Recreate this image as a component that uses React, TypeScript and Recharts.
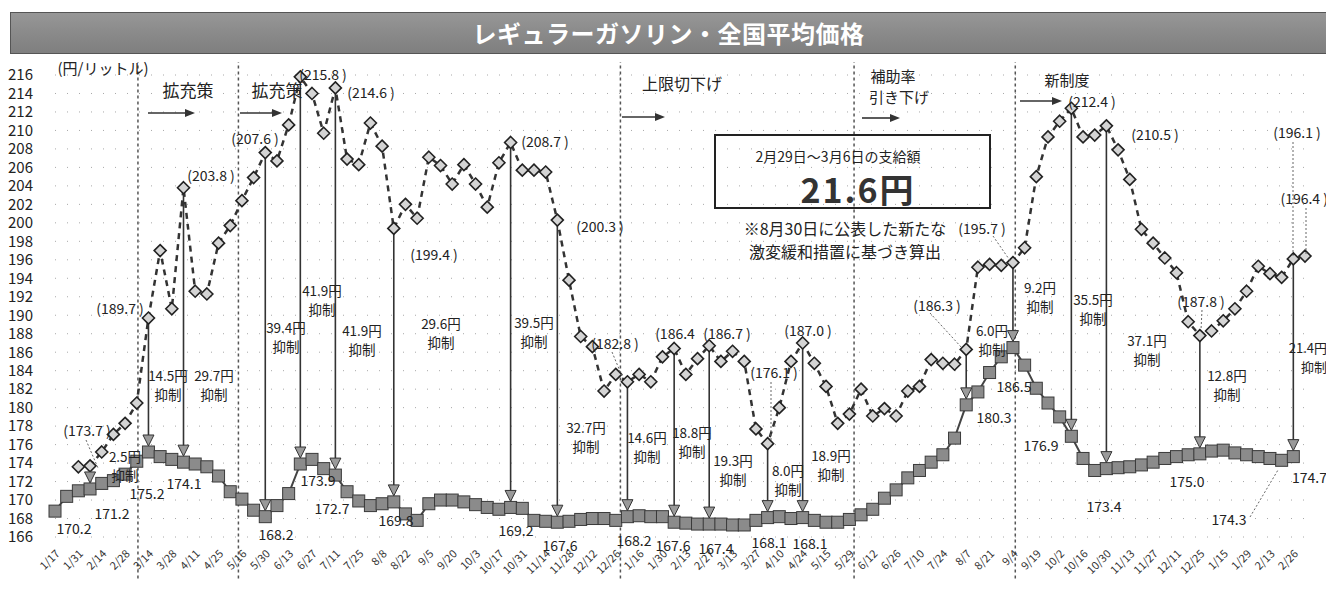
import React from 'react';
import {
  LineChart,
  Line,
  XAxis,
  YAxis,
  CartesianGrid,
  ReferenceLine,
  ReferenceDot
} from 'recharts';

// survey weeks, Jan 2022 - Mar 2024 (holiday weeks skipped)
const weeks = [
  '1/17', '1/24', '1/31', '2/7', '2/14', '2/21', '2/28', '3/7', '3/14', '3/22',
  '3/28', '4/4', '4/11', '4/18', '4/25', '5/9', '5/16', '5/23', '5/30', '6/6',
  '6/13', '6/20', '6/27', '7/4', '7/11', '7/19', '7/25', '8/1', '8/8', '8/15',
  '8/22', '8/29', '9/5', '9/12', '9/20', '9/26', '10/3', '10/11', '10/17', '10/24',
  '10/31', '11/7', '11/14', '11/21', '11/28', '12/5', '12/12', '12/19', '12/26', '1/10',
  '1/16', '1/23', '1/30', '2/6', '2/13', '2/20', '2/27', '3/6', '3/13', '3/20',
  '3/27', '4/3', '4/10', '4/17', '4/24', '5/8', '5/15', '5/22', '5/29', '6/5',
  '6/12', '6/19', '6/26', '7/3', '7/10', '7/18', '7/24', '7/31', '8/7', '8/14',
  '8/21', '8/28', '9/4', '9/11', '9/19', '9/25', '10/2', '10/10', '10/16', '10/23',
  '10/30', '11/6', '11/13', '11/20', '11/27', '12/4', '12/11', '12/18', '12/25', '1/9',
  '1/15', '1/22', '1/29', '2/5', '2/13', '2/19', '2/26', '3/4'
];

// actual pump price (with subsidy)
const actualPrice = [
  168.8, 170.4, 171.0, 171.2, 171.8, 172.1, 172.8, 174.2, 175.2, 174.7,
  174.4, 174.1, 173.9, 173.6, 172.6, 170.9, 170.1, 168.9, 168.2, 169.4,
  170.7, 173.9, 174.4, 173.4, 172.7, 170.9, 169.9, 169.4, 169.6, 169.8,
  168.5, 167.8, 169.6, 170.0, 170.0, 169.8, 169.5, 169.2, 169.0, 169.2,
  169.1, 167.8, 167.7, 167.6, 167.7, 167.9, 168.0, 168.0, 167.8, 168.2,
  168.3, 168.2, 168.2, 167.6, 167.5, 167.4, 167.4, 167.4, 167.3, 167.3,
  167.8, 168.1, 168.2, 168.0, 168.1, 167.8, 167.6, 167.6, 167.9, 168.4,
  169.0, 170.2, 171.1, 172.4, 173.2, 174.1, 174.9, 176.7, 180.3, 181.7,
  183.8, 185.5, 186.5, 184.6, 182.1, 180.5, 179.0, 176.9, 174.5, 173.2,
  173.4, 173.5, 173.6, 173.8, 174.1, 174.5, 174.7, 174.9, 175.0, 175.3,
  175.4, 175.1, 174.9, 174.7, 174.5, 174.3, 174.7
];

// price without subsidy
const noSubsidyPrice = [
  null, null, 173.6, 173.7, 175.2, 177.1, 178.3, 180.5, 189.7, 197.0,
  190.7, 203.8, 192.6, 192.3, 197.8, 199.7, 202.4, 204.9, 207.6, 206.7,
  210.6, 215.8, 214.0, 209.7, 214.6, 206.9, 206.3, 210.8, 208.3, 199.4,
  202.0, 200.5, 207.1, 206.2, 204.2, 206.3, 204.2, 201.7, 206.5, 208.7,
  205.7, 205.7, 205.5, 200.3, 193.8, 187.7, 186.6, 181.8, 183.6, 182.8,
  183.6, 182.8, 185.5, 186.4, 183.6, 185.3, 186.7, 185.0, 186.1, 185.0,
  177.7, 176.1, 180.0, 185.0, 187.0, 184.8, 182.3, 178.3, 179.3, 182.0,
  179.1, 179.9, 179.1, 181.8, 182.3, 185.2, 184.8, 184.7, 186.3, 195.2,
  195.5, 195.4, 195.7, 197.3, 205.0, 209.3, 211.0, 212.4, 209.3, 209.5,
  210.5, 207.9, 204.7, 199.3, 197.8, 196.2, 194.6, 189.3, 187.8, 188.3,
  189.4, 190.7, 192.6, 195.3, 194.5, 194.1, 196.1, 196.4
];

// weeks with a "xx円 抑制" arrow
const arrowWeeks = [3, 8, 11, 18, 21, 24, 29, 39, 43, 49, 53, 56, 61, 64, 78, 82, 87, 90, 98, 106];

// policy change boundaries (week position)
const policyBreaks = [7.1, 15.7, 48.4, 68.4, 82.2];

const yTicks = [
  166, 168, 170, 172, 174, 176, 178, 180, 182, 184, 186, 188, 190,
  192, 194, 196, 198, 200, 202, 204, 206, 208, 210, 212, 214, 216
];

const rows = weeks.map((w, i) => ({
  i,
  week: w,
  actual: actualPrice[i] ?? null,
  base: noSubsidyPrice[i] ?? null
}));

const xTicks = weeks.map((_, i) => i).filter((i) => i % 2 === 0);

const FONT = "'Noto Sans CJK JP', 'Noto Sans', sans-serif";

const SquareDot = (p: any) => {
  if (p.cy == null || p.cx == null) return <g key={`s${p.index}`} />;
  return (
    <rect
      key={`s${p.index}`}
      x={p.cx - 6}
      y={p.cy - 6}
      width={12}
      height={12}
      fill="#8b8b8b"
      stroke="#3a3a3a"
      strokeWidth={1}
    />
  );
};

const DiamondDot = (p: any) => {
  if (p.cy == null || p.cx == null) return <g key={`d${p.index}`} />;
  const { cx, cy } = p;
  return (
    <polygon
      key={`d${p.index}`}
      points={`${cx},${cy - 6} ${cx + 6},${cy} ${cx},${cy + 6} ${cx - 6},${cy}`}
      fill="#d4d4d4"
      stroke="#222"
      strokeWidth={1.6}
    />
  );
};

const ArrowHead = (p: any) => {
  const { cx, cy } = p;
  if (cx == null || cy == null) return <g />;
  return (
    <polygon
      points={`${cx - 5.5},${cy - 17} ${cx + 5.5},${cy - 17} ${cx},${cy - 6}`}
      fill="#9a9a9a"
      stroke="#333"
      strokeWidth={1}
    />
  );
};

// annotation texts
const valueLabels: [string, number, number][] = [
  ['(173.7 )', 87, 430], ['(189.7 )', 120, 308], ['(203.8 )', 211, 175],
  ['(207.6 )', 255, 138], ['(215.8 )', 323, 74], ['(214.6 )', 371, 92],
  ['(199.4 )', 434, 254], ['(208.7 )', 545, 141], ['(200.3 )', 600, 226],
  ['(182.8 )', 615, 343], ['(186.4', 675, 333], ['(186.7 )', 727, 333],
  ['(176.1 )', 774, 372], ['(187.0 )', 808, 330], ['(186.3 )', 937, 305],
  ['(195.7 )', 982, 228], ['(212.4 )', 1092, 101], ['(210.5 )', 1155, 134],
  ['(196.1 )', 1297, 132], ['(187.8 )', 1201, 301]
];

const grayLabels: [string, number, number][] = [
  ['170.2', 74, 528], ['171.2', 112, 513], ['175.2', 147, 493], ['174.1', 184, 483],
  ['168.2', 276, 534], ['173.9', 318, 480], ['172.7', 332, 508], ['169.8', 396, 520],
  ['169.2', 516, 530], ['167.6', 560, 545], ['168.2', 634, 540], ['167.6', 673, 545],
  ['167.4', 716, 548], ['168.1', 769, 542], ['168.1', 810, 543], ['180.3', 994, 417],
  ['186.5', 1014, 386], ['176.9', 1041, 445], ['173.4', 1104, 506], ['175.0', 1187, 481],
  ['174.3', 1229, 519]
];

const cutLabels: [string, number, number][] = [
  ['2.5円', 125, 456], ['14.5円', 168, 375], ['29.7円', 214, 375],
  ['39.4円', 286, 327], ['41.9円', 322, 290], ['41.9円', 362, 330],
  ['29.6円', 441, 323], ['39.5円', 534, 322], ['32.7円', 586, 427],
  ['14.6円', 647, 437], ['18.8円', 692, 432], ['19.3円', 733, 460],
  ['8.0円', 788, 470], ['18.9円', 831, 455], ['6.0円', 992, 330],
  ['9.2円', 1040, 287], ['35.5円', 1093, 299], ['37.1円', 1147, 340],
  ['12.8円', 1227, 375]
];

const policyArrows: [number, number, number][] = [
  [148, 195, 113], [240, 282, 113], [622, 665, 117], [862, 900, 118], [1020, 1062, 101]
];

const leaders: [number, number, number, number][] = [
  [86, 440, 98, 468], [993, 236, 1011, 262], [930, 313, 962, 348],
  [1202, 310, 1201, 330], [1250, 517, 1278, 470], [1293, 142, 1293, 257],
  [1306, 208, 1306, 255], [612, 352, 622, 376], [771, 382, 771, 440]
];

const Annotations = () => (
  <svg
    width={1334}
    height={593}
    style={{ position: 'absolute', left: 0, top: 0, pointerEvents: 'none' }}
    fontFamily={FONT}
  >
    <text x={103} y={67} fontSize={15} textAnchor="middle" dominantBaseline="central" fill="#222">(円/リットル)</text>
    <text x={188} y={89} fontSize={17} textAnchor="middle" dominantBaseline="central" fill="#222">拡充策</text>
    <text x={277} y={89} fontSize={17} textAnchor="middle" dominantBaseline="central" fill="#222">拡充策</text>
    <text x={682} y={83} fontSize={16} textAnchor="middle" dominantBaseline="central" fill="#222">上限切下げ</text>
    <text x={893} y={75} fontSize={15} textAnchor="middle" dominantBaseline="central" fill="#222">補助率</text>
    <text x={899} y={96} fontSize={15} textAnchor="middle" dominantBaseline="central" fill="#222">引き下げ</text>
    <text x={1067} y={79} fontSize={15} textAnchor="middle" dominantBaseline="central" fill="#222">新制度</text>

    {policyArrows.map(([x1, x2, y], k) => (
      <g key={`pa${k}`}>
        <line x1={x1} y1={y} x2={x2 - 8} y2={y} stroke="#333" strokeWidth={1.6} />
        <polygon points={`${x2},${y} ${x2 - 10},${y - 4} ${x2 - 10},${y + 4}`} fill="#333" />
      </g>
    ))}

    {leaders.map(([x1, y1, x2, y2], k) => (
      <line key={`ld${k}`} x1={x1} y1={y1} x2={x2} y2={y2} stroke="#666" strokeWidth={1} strokeDasharray="2 2" />
    ))}

    <rect x={715} y={135} width={275} height={73} fill="none" stroke="#222" strokeWidth={2} />
    <text x={838} y={156} fontSize={14} textAnchor="middle" dominantBaseline="central" fill="#222">2月29日〜3月6日の支給額</text>
    <text x={858} y={188} fontSize={34} fontWeight="bold" letterSpacing={2} textAnchor="middle" dominantBaseline="central" fill="#333">21.6円</text>
    <text x={845} y={228} fontSize={16} textAnchor="middle" dominantBaseline="central" fill="#222">※8月30日に公表した新たな</text>
    <text x={845} y={251} fontSize={16} textAnchor="middle" dominantBaseline="central" fill="#222">激変緩和措置に基づき算出</text>

    {valueLabels.map(([t, x, y], k) => (
      <text key={`vl${k}`} x={x} y={y} fontSize={14} textAnchor="middle" dominantBaseline="central" fill="#222">{t}</text>
    ))}
    <text x={1328} y={198} fontSize={14} textAnchor="end" dominantBaseline="central" fill="#222">(196.4 )</text>

    {grayLabels.map(([t, x, y], k) => (
      <text key={`gl${k}`} x={x} y={y} fontSize={14} textAnchor="middle" dominantBaseline="central" fill="#222">{t}</text>
    ))}
    <text x={1327} y={477} fontSize={14} textAnchor="end" dominantBaseline="central" fill="#222">174.7</text>

    {cutLabels.map(([t, x, y], k) => (
      <g key={`cl${k}`}>
        <text x={x} y={y} fontSize={13.5} textAnchor="middle" dominantBaseline="central" fill="#222">{t}</text>
        <text x={x} y={y + 19} fontSize={13.5} textAnchor="middle" dominantBaseline="central" fill="#222">抑制</text>
      </g>
    ))}
    <text x={1327} y={347} fontSize={13} textAnchor="end" dominantBaseline="central" fill="#222">21.4円</text>
    <text x={1327} y={366} fontSize={13} textAnchor="end" dominantBaseline="central" fill="#222">抑制</text>
  </svg>
);

export default function App() {
  return (
    <div
      style={{
        position: 'relative',
        margin: -8,
        width: 1334,
        height: 593,
        background: '#fff',
        fontFamily: FONT,
        overflow: 'hidden'
      }}
    >
      <div
        style={{
          position: 'absolute',
          left: 10,
          top: 12,
          width: 1315,
          height: 40,
          background: 'linear-gradient(180deg, #979797 0%, #8a8a8a 50%, #7f7f7f 100%)',
          border: '1px solid #555',
          color: '#fff',
          fontWeight: 'bold',
          fontSize: 24,
          lineHeight: '40px',
          textAlign: 'center',
          letterSpacing: 0.5
        }}
      >
        レギュラーガソリン・全国平均価格
      </div>

      <LineChart
        width={1334}
        height={593}
        data={rows}
        margin={{ top: 75, right: 29, bottom: 16, left: 5 }}
      >
        <CartesianGrid vertical={false} stroke="#a8a8a8" strokeDasharray="1 11" />
        <XAxis
          type="number"
          dataKey="i"
          domain={[0, 107]}
          ticks={xTicks}
          interval={0}
          tickFormatter={(v: number) => weeks[v]}
          angle={-45}
          textAnchor="end"
          height={40}
          axisLine={false}
          tickLine={false}
          tickMargin={6}
          tick={{ fontSize: 11, fill: '#333', textAnchor: 'end' }}
        />
        <YAxis
          domain={[166, 216]}
          ticks={yTicks}
          interval={0}
          width={50}
          axisLine={false}
          tickLine={false}
          tickMargin={16}
          tick={{ fontSize: 15, fill: '#222' }}
        />

        {policyBreaks.map((x) => (
          <ReferenceLine
            key={`pb${x}`}
            segment={[{ x, y: 161.5 }, { x, y: 217.4 }]}
            ifOverflow="visible"
            stroke="#555"
            strokeWidth={1.5}
            strokeDasharray="3 3"
          />
        ))}

        {arrowWeeks.map((w) => (
          <ReferenceLine
            key={`ar${w}`}
            segment={[
              { x: w, y: noSubsidyPrice[w] as number },
              { x: w, y: actualPrice[w] + 1.3 }
            ]}
            ifOverflow="visible"
            stroke="#333"
            strokeWidth={1.6}
          />
        ))}

        <Line
          type="linear"
          dataKey="actual"
          stroke="#444"
          strokeWidth={2}
          dot={SquareDot}
          activeDot={false}
          isAnimationActive={false}
        />
        <Line
          type="linear"
          dataKey="base"
          stroke="#333"
          strokeWidth={2.5}
          strokeDasharray="6 5"
          dot={DiamondDot}
          activeDot={false}
          connectNulls={false}
          isAnimationActive={false}
        />

        {arrowWeeks.map((w) => (
          <ReferenceDot
            key={`ah${w}`}
            x={w}
            y={actualPrice[w]}
            r={6}
            ifOverflow="visible"
            shape={ArrowHead}
          />
        ))}
      </LineChart>

      <Annotations />
    </div>
  );
}
